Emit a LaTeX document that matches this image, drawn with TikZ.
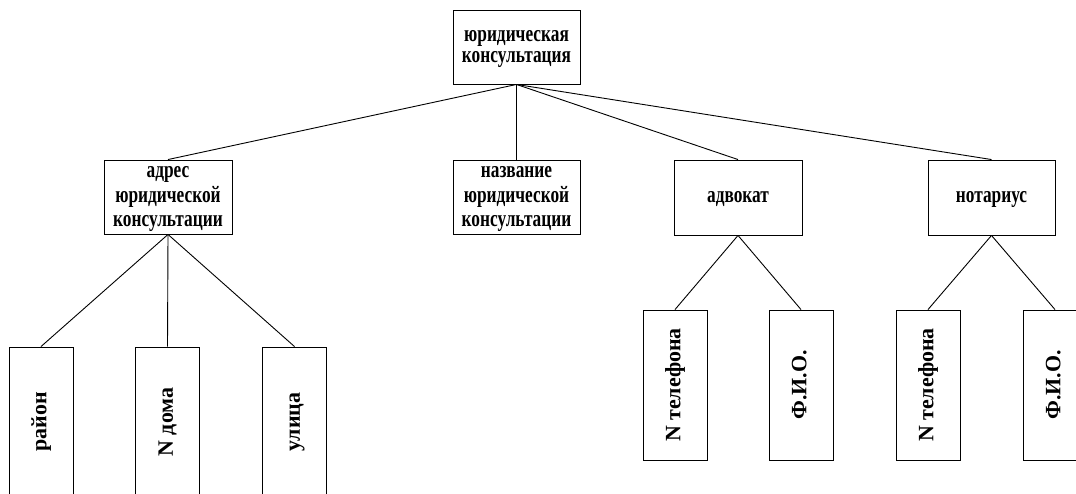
\documentclass[tikz,border=0pt]{standalone}
\usepackage{fontspec}
\setmainfont{Liberation Serif}
\newfontfamily\condfont[FakeStretch=0.74]{Liberation Serif}
\newcommand\hs{\rule{0pt}{17bp}}
\newcommand\ds{\rule[-6.3bp]{0pt}{6.3bp}}
\newcommand\ls{\rule[-5bp]{0pt}{20.5bp}}
\newcommand\bt[2][24.5]{\parbox{124bp}{\centering\condfont\fontsize{23.5}{#1}\selectfont\bfseries\hs #2\ds\par}}
\begin{document}
\begin{tikzpicture}[x=1bp,y=-1bp,
  box/.style={draw=black, line width=0.9bp, rectangle, inner sep=0pt},
  leaf/.style={draw=black, line width=0.9bp, rectangle, inner sep=0pt, rotate=90,
    minimum width=150bp, minimum height=64bp,
    font=\fontsize{22}{25}\selectfont\bfseries},
  link/.style={draw=black, line width=0.9bp}]
\useasboundingbox (0,0) rectangle (1076,494);
\node[box, minimum width=127bp, minimum height=74bp] (top) at (516.5,47) {\bt[21]{юридическая\\консультация}};
\node[box, minimum width=128bp, minimum height=74bp] (adr) at (168,197) {\bt{адрес\\юридической\\консультации}};
\node[box, minimum width=127bp, minimum height=74bp] (naz) at (516.5,197) {\bt{название\\юридической\\консультации}};
\node[box, minimum width=128bp, minimum height=75bp] (adv) at (738,197.5) {\bt{адвокат}};
\node[box, minimum width=127bp, minimum height=75bp] (not) at (991.5,197.5) {\bt{нотариус}};
\node[leaf] (rai) at (41,422) {\ls район};
\node[leaf] (dom) at (167.5,422) {\ls N дома};
\node[leaf] (uli) at (294.5,422) {\ls улица};
\node[leaf] (tel1) at (675,385) {\ls N телефона};
\node[leaf] (fio1) at (801,385) {\ls Ф.И.О.};
\node[leaf] (tel2) at (928,385) {\ls N телефона};
\node[leaf] (fio2) at (1055,385) {\ls Ф.И.О.};
\draw[link] (top.south) -- (adr.north);
\draw[link] (top.south) -- (naz.north);
\draw[link] (top.south) -- (adv.north);
\draw[link] (top.south) -- (not.north);
\draw[link] (adr.south) -- (rai.east);
\draw[link] (adr.south) -- (dom.east);
\draw[link] (adr.south) -- (uli.east);
\draw[link] (adv.south) -- (tel1.east);
\draw[link] (adv.south) -- (fio1.east);
\draw[link] (not.south) -- (tel2.east);
\draw[link] (not.south) -- (fio2.east);
\end{tikzpicture}
\end{document}
